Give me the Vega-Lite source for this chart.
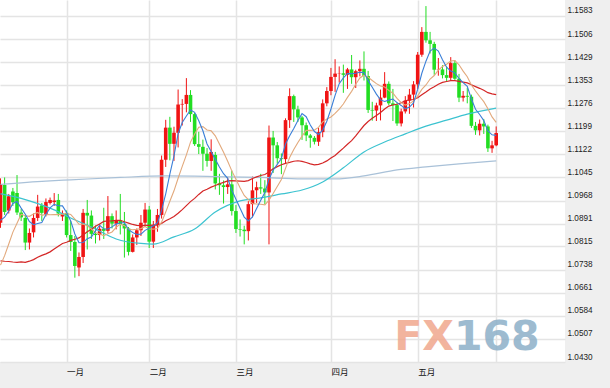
{
  "$schema": "https://vega.github.io/schema/vega-lite/v6.json",
  "width": 565,
  "height": 362,
  "autosize": {"type": "none"},
  "padding": {"left": 0, "top": 0, "right": 45, "bottom": 26},
  "background": "#efefef",
  "view": {"fill": "white", "stroke": null},
  "config": {
    "axis": {"domain": false, "ticks": false, "tickSize": 0, "gridColor": "#e4e4e4", "gridWidth": 1.5, "labelOverlap": false}
  },
  "layer": [
    {
      "data": {"values": [{"w": "FX"}]},
      "mark": {"type": "text", "font": "DejaVu Sans", "fontWeight": "bold", "fontSize": 41, "align": "right", "baseline": "alphabetic", "color": "#f0a88e", "opacity": 0.85},
      "encoding": {
        "x": {"datum": 140.77, "type": "quantitative", "title": null,
          "scale": {"domain": [32.09, 166.45], "nice": false, "zero": false},
          "axis": {"orient": "bottom", "values": [47, 67, 88, 111, 132, 151], "tickCount": 20, "grid": true, "labelOverlap": false, "labelAlign": "left", "labelOffset": 0, "labelPadding": 5, "labelBaseline": "top", "labelFont": "Noto Sans CJK SC", "labelFontSize": 8.5, "labelColor": "#111", "labelExpr": "datum.value==47?'一月':datum.value==67?'二月':datum.value==88?'三月':datum.value==111?'四月':datum.value==132?'五月':''"}},
        "y": {"datum": 1.047, "type": "quantitative", "title": null,
          "scale": {"domain": [1.043, 1.16363], "nice": false, "zero": false},
          "axis": {"orient": "right", "values": [1.043, 1.0507, 1.0584, 1.0661, 1.0738, 1.0815, 1.0891, 1.0968, 1.1045, 1.1122, 1.1199, 1.1276, 1.1353, 1.1429, 1.1506, 1.1583], "tickCount": 30, "format": ".4f", "grid": true, "labelOverlap": false, "labelAlign": "left", "labelPadding": 2, "labelBaseline": "alphabetic", "labelOffset": -3, "labelFont": "Liberation Sans", "labelFontSize": 8.2, "labelColor": "#222"}},
        "text": {"field": "w"}
      }
    },
    {
      "data": {"values": [{"w": "168"}]},
      "mark": {"type": "text", "font": "DejaVu Sans", "fontWeight": "bold", "fontSize": 41, "align": "left", "baseline": "alphabetic", "color": "#8db0c8", "opacity": 0.85},
      "encoding": {
        "x": {"datum": 140.77, "type": "quantitative", "title": null},
        "y": {"datum": 1.047, "type": "quantitative", "title": null},
        "text": {"field": "w"}
      }
    },
    {
      "data": {"values": [
        {"date": "2015-10-28", "close": 1.0925},
        {"date": "2015-10-29", "close": 1.0977},
        {"date": "2015-10-30", "close": 1.1004},
        {"date": "2015-11-02", "close": 1.1015},
        {"date": "2015-11-03", "close": 1.0963},
        {"date": "2015-11-04", "close": 1.0863},
        {"date": "2015-11-05", "close": 1.0878},
        {"date": "2015-11-06", "close": 1.0741},
        {"date": "2015-11-09", "close": 1.0751},
        {"date": "2015-11-10", "close": 1.0718},
        {"date": "2015-11-11", "close": 1.0737},
        {"date": "2015-11-12", "close": 1.0812},
        {"date": "2015-11-13", "close": 1.0767},
        {"date": "2015-11-16", "close": 1.0685},
        {"date": "2015-11-17", "close": 1.0643},
        {"date": "2015-11-18", "close": 1.0654},
        {"date": "2015-11-19", "close": 1.0730},
        {"date": "2015-11-20", "close": 1.0645},
        {"date": "2015-11-23", "close": 1.0635},
        {"date": "2015-11-24", "close": 1.0646},
        {"date": "2015-11-25", "close": 1.0625},
        {"date": "2015-11-26", "close": 1.0614},
        {"date": "2015-11-27", "close": 1.0594},
        {"date": "2015-11-30", "close": 1.0565},
        {"date": "2015-12-01", "close": 1.0632},
        {"date": "2015-12-02", "close": 1.0613},
        {"date": "2015-12-03", "close": 1.0877},
        {"date": "2015-12-04", "close": 1.0880},
        {"date": "2015-12-07", "close": 1.0836},
        {"date": "2015-12-08", "close": 1.0894},
        {"date": "2015-12-09", "open": 1.0894, "high": 1.1042, "low": 1.0877, "close": 1.1023, "ma60": 1.0990, "ma120": 1.1022},
        {"date": "2015-12-10", "open": 1.1020, "high": 1.1045, "low": 1.0920, "close": 1.0930, "ma60": 1.0988},
        {"date": "2015-12-11", "open": 1.0935, "high": 1.0990, "low": 1.0925, "close": 1.0982},
        {"date": "2015-12-14", "open": 1.0998, "high": 1.1010, "low": 1.0950, "close": 1.0962},
        {"date": "2015-12-15", "open": 1.0993, "high": 1.1053, "low": 1.0920, "close": 1.0928},
        {"date": "2015-12-16", "open": 1.0928, "high": 1.0940, "low": 1.0900, "close": 1.0912},
        {"date": "2015-12-17", "open": 1.0910, "high": 1.0918, "low": 1.0803, "close": 1.0828},
        {"date": "2015-12-18", "open": 1.0828, "high": 1.0875, "low": 1.0805, "close": 1.0860, "ma60": 1.0967},
        {"date": "2015-12-21", "open": 1.0862, "high": 1.0925, "low": 1.0845, "close": 1.0910},
        {"date": "2015-12-22", "open": 1.0910, "high": 1.0987, "low": 1.0900, "close": 1.0948},
        {"date": "2015-12-23", "open": 1.0952, "high": 1.0960, "low": 1.0900, "close": 1.0927},
        {"date": "2015-12-24", "open": 1.0920, "high": 1.0975, "low": 1.0915, "close": 1.0963, "ma120": 1.1033},
        {"date": "2015-12-25", "open": 1.0960, "high": 1.0978, "low": 1.0955, "close": 1.0970},
        {"date": "2015-12-28", "open": 1.0963, "high": 1.0993, "low": 1.0950, "close": 1.0968, "ma60": 1.0937},
        {"date": "2015-12-29", "open": 1.0970, "high": 1.0990, "low": 1.0915, "close": 1.0925},
        {"date": "2015-12-30", "open": 1.0915, "high": 1.0935, "low": 1.0900, "close": 1.0925},
        {"date": "2015-12-31", "open": 1.0927, "high": 1.0935, "low": 1.0845, "close": 1.0853},
        {"date": "2016-01-04", "open": 1.0853, "high": 1.0900, "low": 1.0800, "close": 1.0830, "ma60": 1.0910, "ma120": 1.1037},
        {"date": "2016-01-05", "open": 1.0830, "high": 1.0850, "low": 1.0711, "close": 1.0750},
        {"date": "2016-01-06", "open": 1.0745, "high": 1.0795, "low": 1.0716, "close": 1.0780},
        {"date": "2016-01-07", "open": 1.0780, "high": 1.0940, "low": 1.0760, "close": 1.0927},
        {"date": "2016-01-08", "open": 1.0927, "high": 1.0970, "low": 1.0805, "close": 1.0918},
        {"date": "2016-01-11", "open": 1.0918, "high": 1.0935, "low": 1.0840, "close": 1.0857, "ma60": 1.0880},
        {"date": "2016-01-12", "open": 1.0857, "high": 1.0885, "low": 1.0825, "close": 1.0853},
        {"date": "2016-01-13", "open": 1.0853, "high": 1.0890, "low": 1.0835, "close": 1.0874},
        {"date": "2016-01-14", "open": 1.0874, "high": 1.0944, "low": 1.0840, "close": 1.0867},
        {"date": "2016-01-15", "open": 1.0867, "high": 1.0983, "low": 1.0860, "close": 1.0916},
        {"date": "2016-01-18", "open": 1.0916, "high": 1.0925, "low": 1.0875, "close": 1.0891},
        {"date": "2016-01-19", "open": 1.0891, "high": 1.0935, "low": 1.0872, "close": 1.0901, "ma60": 1.0840},
        {"date": "2016-01-20", "open": 1.0901, "high": 1.0990, "low": 1.0855, "close": 1.0890, "ma120": 1.1045},
        {"date": "2016-01-21", "open": 1.0890, "high": 1.0930, "low": 1.0778, "close": 1.0875},
        {"date": "2016-01-22", "open": 1.0875, "high": 1.0880, "low": 1.0785, "close": 1.0797},
        {"date": "2016-01-25", "open": 1.0797, "high": 1.0855, "low": 1.0795, "close": 1.0845},
        {"date": "2016-01-26", "open": 1.0845, "high": 1.0875, "low": 1.0820, "close": 1.0869},
        {"date": "2016-01-27", "open": 1.0869, "high": 1.0920, "low": 1.0850, "close": 1.0894, "ma60": 1.0825},
        {"date": "2016-01-28", "open": 1.0894, "high": 1.0960, "low": 1.0880, "close": 1.0938},
        {"date": "2016-01-29", "open": 1.0938, "high": 1.0950, "low": 1.0810, "close": 1.0831},
        {"date": "2016-02-01", "open": 1.0831, "high": 1.0900, "low": 1.0810, "close": 1.0887, "ma60": 1.0823},
        {"date": "2016-02-02", "open": 1.0887, "high": 1.0940, "low": 1.0864, "close": 1.0920},
        {"date": "2016-02-03", "open": 1.0920, "high": 1.1118, "low": 1.0908, "close": 1.1104},
        {"date": "2016-02-04", "open": 1.1104, "high": 1.1237, "low": 1.1080, "close": 1.1211, "ma120": 1.1050},
        {"date": "2016-02-05", "open": 1.1211, "high": 1.1247, "low": 1.1102, "close": 1.1157},
        {"date": "2016-02-08", "open": 1.1157, "high": 1.1214, "low": 1.1100, "close": 1.1194, "ma60": 1.0847},
        {"date": "2016-02-09", "open": 1.1194, "high": 1.1338, "low": 1.1145, "close": 1.1288},
        {"date": "2016-02-10", "open": 1.1288, "high": 1.1306, "low": 1.1218, "close": 1.1290},
        {"date": "2016-02-11", "open": 1.1290, "high": 1.1376, "low": 1.1262, "close": 1.1320},
        {"date": "2016-02-12", "open": 1.1320, "high": 1.1336, "low": 1.1230, "close": 1.1256},
        {"date": "2016-02-15", "open": 1.1256, "high": 1.1260, "low": 1.1150, "close": 1.1156, "ma60": 1.0873},
        {"date": "2016-02-16", "open": 1.1156, "high": 1.1197, "low": 1.1123, "close": 1.1147},
        {"date": "2016-02-17", "open": 1.1147, "high": 1.1171, "low": 1.1067, "close": 1.1124},
        {"date": "2016-02-18", "open": 1.1124, "high": 1.1143, "low": 1.1081, "close": 1.1100},
        {"date": "2016-02-19", "open": 1.1100, "high": 1.1172, "low": 1.1067, "close": 1.1130},
        {"date": "2016-02-22", "open": 1.1120, "high": 1.1130, "low": 1.1005, "close": 1.1025, "ma60": 1.0930, "ma120": 1.1048},
        {"date": "2016-02-23", "open": 1.1025, "high": 1.1057, "low": 1.0987, "close": 1.1019},
        {"date": "2016-02-24", "open": 1.1019, "high": 1.1035, "low": 1.0958, "close": 1.1013},
        {"date": "2016-02-25", "open": 1.1013, "high": 1.1045, "low": 1.0990, "close": 1.1022},
        {"date": "2016-02-26", "open": 1.1022, "high": 1.1068, "low": 1.0918, "close": 1.0933},
        {"date": "2016-02-29", "open": 1.0933, "high": 1.0953, "low": 1.0860, "close": 1.0873},
        {"date": "2016-03-01", "open": 1.0873, "high": 1.0905, "low": 1.0848, "close": 1.0871, "ma60": 1.0967},
        {"date": "2016-03-02", "open": 1.0871, "high": 1.0884, "low": 1.0822, "close": 1.0866},
        {"date": "2016-03-03", "open": 1.0866, "high": 1.0966, "low": 1.0835, "close": 1.0956},
        {"date": "2016-03-04", "open": 1.0956, "high": 1.1048, "low": 1.0912, "close": 1.1002},
        {"date": "2016-03-07", "open": 1.1002, "high": 1.1031, "low": 1.0960, "close": 1.1012},
        {"date": "2016-03-08", "open": 1.1012, "high": 1.1057, "low": 1.0990, "close": 1.1008, "ma60": 1.0977, "ma120": 1.1045},
        {"date": "2016-03-09", "open": 1.1008, "high": 1.1036, "low": 1.0956, "close": 1.0995},
        {"date": "2016-03-10", "open": 1.0995, "high": 1.1218, "low": 1.0822, "close": 1.1178},
        {"date": "2016-03-11", "open": 1.1178, "high": 1.1200, "low": 1.1060, "close": 1.1152},
        {"date": "2016-03-14", "open": 1.1152, "high": 1.1163, "low": 1.1091, "close": 1.1109},
        {"date": "2016-03-15", "open": 1.1109, "high": 1.1125, "low": 1.1056, "close": 1.1106, "ma60": 1.0990},
        {"date": "2016-03-16", "open": 1.1106, "high": 1.1242, "low": 1.1090, "close": 1.1236},
        {"date": "2016-03-17", "open": 1.1236, "high": 1.1342, "low": 1.1210, "close": 1.1316},
        {"date": "2016-03-18", "open": 1.1316, "high": 1.1321, "low": 1.1230, "close": 1.1272},
        {"date": "2016-03-21", "open": 1.1272, "high": 1.1284, "low": 1.1230, "close": 1.1245},
        {"date": "2016-03-22", "open": 1.1245, "high": 1.1250, "low": 1.1170, "close": 1.1219, "ma60": 1.1003, "ma120": 1.1040},
        {"date": "2016-03-23", "open": 1.1219, "high": 1.1228, "low": 1.1166, "close": 1.1185},
        {"date": "2016-03-24", "open": 1.1185, "high": 1.1190, "low": 1.1144, "close": 1.1177},
        {"date": "2016-03-25", "open": 1.1177, "high": 1.1183, "low": 1.1155, "close": 1.1164},
        {"date": "2016-03-28", "open": 1.1164, "high": 1.1210, "low": 1.1150, "close": 1.1196},
        {"date": "2016-03-29", "open": 1.1196, "high": 1.1305, "low": 1.1179, "close": 1.1292, "ma60": 1.1030},
        {"date": "2016-03-30", "open": 1.1292, "high": 1.1346, "low": 1.1282, "close": 1.1333},
        {"date": "2016-03-31", "open": 1.1333, "high": 1.1410, "low": 1.1319, "close": 1.1380},
        {"date": "2016-04-01", "open": 1.1380, "high": 1.1439, "low": 1.1330, "close": 1.1391, "ma120": 1.1040},
        {"date": "2016-04-04", "open": 1.1391, "high": 1.1415, "low": 1.1361, "close": 1.1392},
        {"date": "2016-04-05", "open": 1.1392, "high": 1.1421, "low": 1.1327, "close": 1.1387, "ma60": 1.1077},
        {"date": "2016-04-06", "open": 1.1387, "high": 1.1410, "low": 1.1340, "close": 1.1405},
        {"date": "2016-04-07", "open": 1.1405, "high": 1.1453, "low": 1.1357, "close": 1.1379},
        {"date": "2016-04-08", "open": 1.1379, "high": 1.1404, "low": 1.1343, "close": 1.1399},
        {"date": "2016-04-11", "open": 1.1399, "high": 1.1435, "low": 1.1382, "close": 1.1407},
        {"date": "2016-04-12", "open": 1.1407, "high": 1.1465, "low": 1.1368, "close": 1.1383, "ma60": 1.1130, "ma120": 1.1050},
        {"date": "2016-04-13", "open": 1.1383, "high": 1.1400, "low": 1.1260, "close": 1.1270},
        {"date": "2016-04-14", "open": 1.1270, "high": 1.1297, "low": 1.1234, "close": 1.1268},
        {"date": "2016-04-15", "open": 1.1268, "high": 1.1294, "low": 1.1233, "close": 1.1285},
        {"date": "2016-04-18", "open": 1.1285, "high": 1.1338, "low": 1.1235, "close": 1.1311},
        {"date": "2016-04-19", "open": 1.1311, "high": 1.1396, "low": 1.1309, "close": 1.1357, "ma60": 1.1163},
        {"date": "2016-04-20", "open": 1.1357, "high": 1.1365, "low": 1.1286, "close": 1.1292},
        {"date": "2016-04-21", "open": 1.1292, "high": 1.1340, "low": 1.1233, "close": 1.1286},
        {"date": "2016-04-22", "open": 1.1286, "high": 1.1295, "low": 1.1217, "close": 1.1225, "ma120": 1.1070},
        {"date": "2016-04-25", "open": 1.1225, "high": 1.1274, "low": 1.1215, "close": 1.1265},
        {"date": "2016-04-26", "open": 1.1265, "high": 1.1316, "low": 1.1258, "close": 1.1301, "ma60": 1.1190},
        {"date": "2016-04-27", "open": 1.1301, "high": 1.1340, "low": 1.1257, "close": 1.1321},
        {"date": "2016-04-28", "open": 1.1321, "high": 1.1366, "low": 1.1278, "close": 1.1355},
        {"date": "2016-04-29", "open": 1.1355, "high": 1.1463, "low": 1.1340, "close": 1.1454},
        {"date": "2016-05-02", "open": 1.1454, "high": 1.1546, "low": 1.1447, "close": 1.1530},
        {"date": "2016-05-03", "open": 1.1530, "high": 1.1616, "low": 1.1494, "close": 1.1502, "ma60": 1.1216, "ma120": 1.1080},
        {"date": "2016-05-04", "open": 1.1502, "high": 1.1530, "low": 1.1458, "close": 1.1490},
        {"date": "2016-05-05", "open": 1.1490, "high": 1.1497, "low": 1.1387, "close": 1.1404},
        {"date": "2016-05-06", "open": 1.1404, "high": 1.1443, "low": 1.1384, "close": 1.1405},
        {"date": "2016-05-09", "open": 1.1405, "high": 1.1419, "low": 1.1375, "close": 1.1386},
        {"date": "2016-05-10", "open": 1.1386, "high": 1.1415, "low": 1.1366, "close": 1.1377, "ma60": 1.1236},
        {"date": "2016-05-11", "open": 1.1377, "high": 1.1446, "low": 1.1368, "close": 1.1426},
        {"date": "2016-05-12", "open": 1.1426, "high": 1.1435, "low": 1.1370, "close": 1.1374},
        {"date": "2016-05-13", "open": 1.1374, "high": 1.1390, "low": 1.1296, "close": 1.1311, "ma120": 1.1090},
        {"date": "2016-05-16", "open": 1.1311, "high": 1.1333, "low": 1.1298, "close": 1.1317},
        {"date": "2016-05-17", "open": 1.1317, "high": 1.1344, "low": 1.1292, "close": 1.1314, "ma60": 1.1256},
        {"date": "2016-05-18", "open": 1.1314, "high": 1.1321, "low": 1.1210, "close": 1.1217},
        {"date": "2016-05-19", "open": 1.1217, "high": 1.1230, "low": 1.1187, "close": 1.1202},
        {"date": "2016-05-20", "open": 1.1202, "high": 1.1238, "low": 1.1185, "close": 1.1224},
        {"date": "2016-05-23", "open": 1.1224, "high": 1.1240, "low": 1.1190, "close": 1.1215},
        {"date": "2016-05-24", "open": 1.1215, "high": 1.1221, "low": 1.1130, "close": 1.1142},
        {"date": "2016-05-25", "open": 1.1142, "high": 1.1167, "low": 1.1127, "close": 1.1152},
        {"date": "2016-05-26", "open": 1.1152, "high": 1.1215, "low": 1.1149, "close": 1.1193, "ma60": 1.1276, "ma120": 1.1100}
      ]},
      "transform": [
        {"window": [{"op": "row_number", "as": "idx"}, {"op": "mean", "field": "close", "as": "ma5"}], "sort": [{"field": "date"}], "frame": [-4, 0]},
        {"window": [{"op": "mean", "field": "close", "as": "ma10"}], "sort": [{"field": "date"}], "frame": [-9, 0]},
        {"window": [{"op": "mean", "field": "close", "as": "ma30"}], "sort": [{"field": "date"}], "frame": [-29, 0]},
        {"filter": "datum.date >= '2015-12-09'"}
      ],
      "layer": [
        {
          "mark": {"type": "rule", "strokeWidth": 1, "clip": true},
          "encoding": {
            "x": {"field": "idx", "type": "quantitative", "title": null},
            "y": {"field": "low", "type": "quantitative", "title": null},
            "y2": {"field": "high"},
            "color": {"condition": {"test": "datum.close >= datum.open", "value": "#f01414"}, "value": "#22dd22"}
          }
        },
        {
          "mark": {"type": "bar", "size": 3.6, "clip": true},
          "encoding": {
            "x": {"field": "idx", "type": "quantitative", "title": null},
            "y": {"field": "open", "type": "quantitative", "title": null},
            "y2": {"field": "close"},
            "color": {"condition": {"test": "datum.close >= datum.open", "value": "#f01414"}, "value": "#22dd22"}
          }
        },
        {
          "transform": [{"filter": "isValid(datum.ma120)"}],
          "mark": {"type": "line", "strokeWidth": 1.2, "color": "#a9c1d8", "interpolate": "monotone", "clip": true},
          "encoding": {
            "x": {"field": "idx", "type": "quantitative", "title": null},
            "y": {"field": "ma120", "type": "quantitative", "title": null}
          }
        },
        {
          "transform": [{"filter": "isValid(datum.ma60)"}],
          "mark": {"type": "line", "strokeWidth": 1.2, "color": "#3cc3d0", "interpolate": "monotone", "clip": true},
          "encoding": {
            "x": {"field": "idx", "type": "quantitative", "title": null},
            "y": {"field": "ma60", "type": "quantitative", "title": null}
          }
        },
        {
          "mark": {"type": "line", "strokeWidth": 1.2, "color": "#d42626", "clip": true},
          "encoding": {
            "x": {"field": "idx", "type": "quantitative", "title": null},
            "y": {"field": "ma30", "type": "quantitative", "title": null}
          }
        },
        {
          "mark": {"type": "line", "strokeWidth": 1.1, "color": "#e2a97c", "clip": true},
          "encoding": {
            "x": {"field": "idx", "type": "quantitative", "title": null},
            "y": {"field": "ma10", "type": "quantitative", "title": null}
          }
        },
        {
          "mark": {"type": "line", "strokeWidth": 1.1, "color": "#3a7fd8", "clip": true},
          "encoding": {
            "x": {"field": "idx", "type": "quantitative", "title": null},
            "y": {"field": "ma5", "type": "quantitative", "title": null}
          }
        }
      ]
    }
  ]
}
